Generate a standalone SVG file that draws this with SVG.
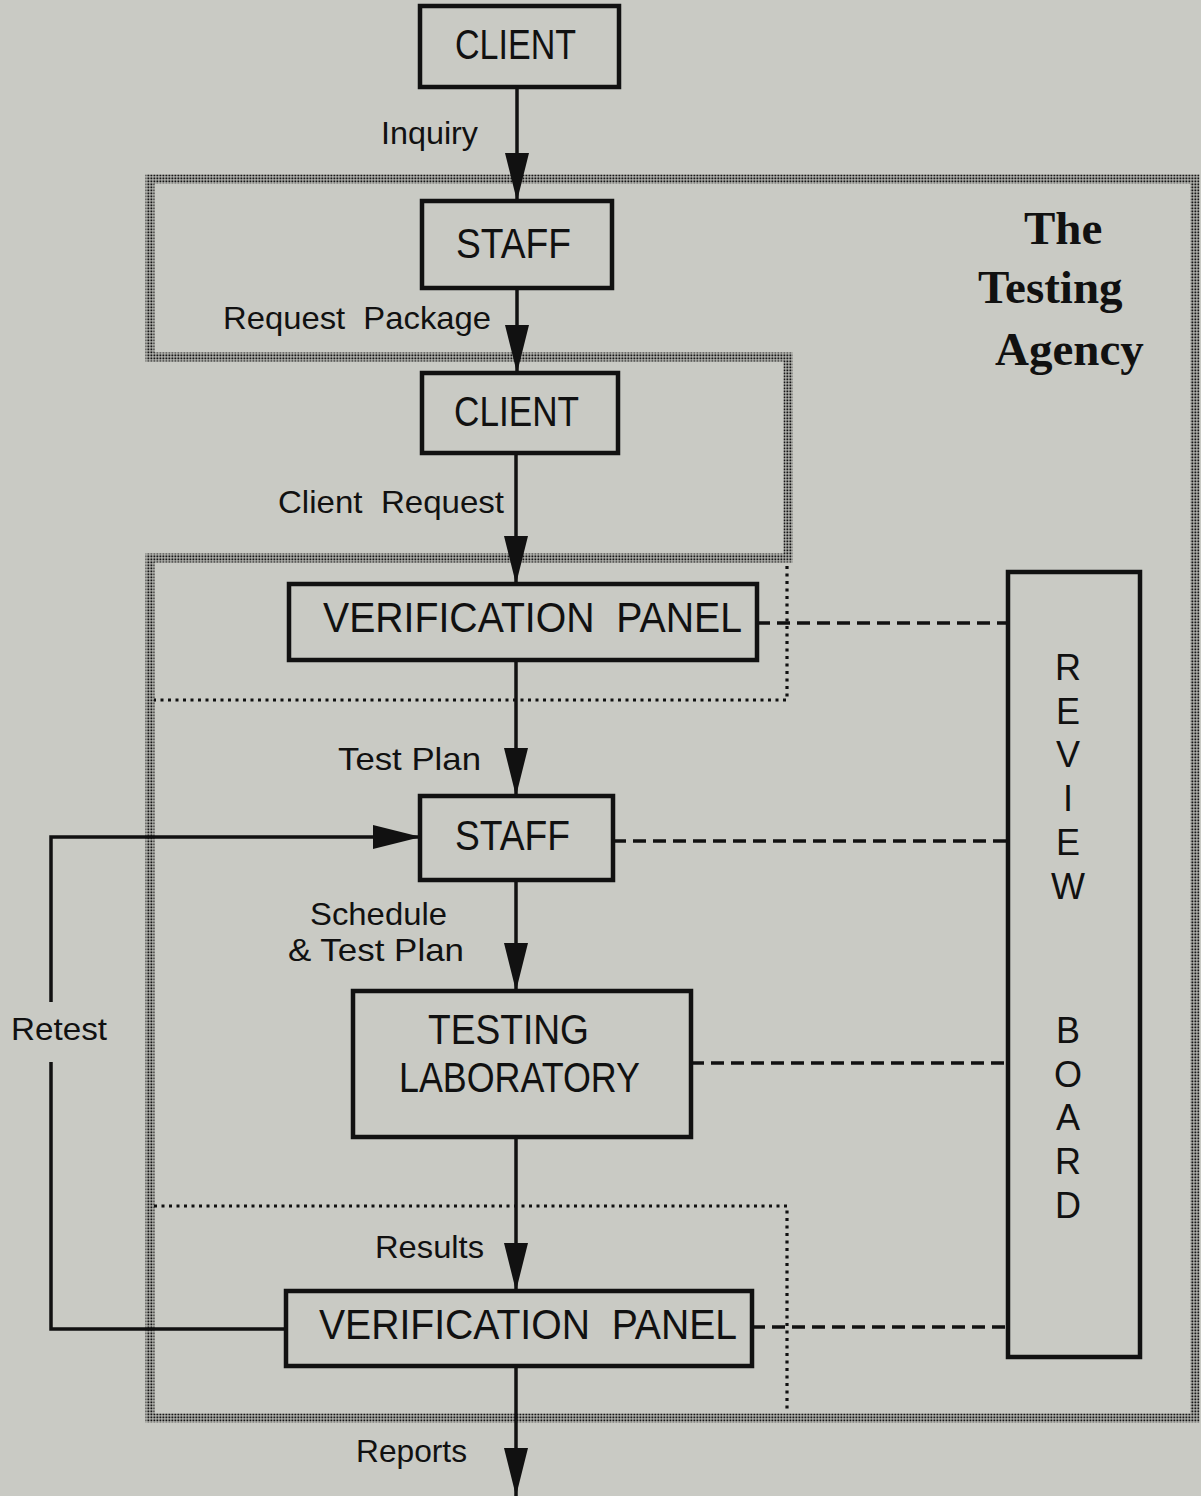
<svg xmlns="http://www.w3.org/2000/svg" width="1201" height="1496" viewBox="0 0 1201 1496">
  <defs>
    <style>
      .box { fill: none; stroke: #111; stroke-width: 4.5; }
      .conn { fill: none; stroke: #111; stroke-width: 3.5; }
      .link { fill: none; stroke: #111; stroke-width: 3.5; stroke-dasharray: 13 7; }
      .band { fill: none; stroke: url(#dots); stroke-width: 9; }
      .fine { fill: none; stroke: #111; stroke-width: 3.2; stroke-dasharray: 3 4.5; }
      .t { font-family: "Liberation Sans", Arial, sans-serif; fill: #111; }
      .node { font-size: 42px; }
      .lbl { font-size: 32px; }
      .rb { font-size: 36px; text-anchor: middle; }
      .title { font-family: "Liberation Serif", "Times New Roman", serif; font-weight: bold; font-size: 47px; fill: #111; }
    </style>
    <!-- stippled fill used for the agency boundary band -->
    <pattern id="dots" width="3" height="3" patternUnits="userSpaceOnUse">
      <rect x="0.4" y="0.4" width="2" height="2" fill="#151515"/>
    </pattern>
    <marker id="arrow" markerUnits="userSpaceOnUse" markerWidth="48" markerHeight="24" refX="48" refY="12" orient="auto">
      <path d="M0,0 L48,12 L0,24 Z" fill="#111"/>
    </marker>
  </defs>

  <rect width="1201" height="1496" fill="#c9cac4"/>

  <!-- agency boundary and verification panel regions -->
  <g id="boundaries">
    <path class="band" d="M150,179 H1195 V1418 H150 V558 H788 V357 H150 Z"/>
    <path class="fine" d="M787,566 V700 H154"/>
    <path class="fine" d="M154,1206 H787 V1413"/>
  </g>

  <!-- connectors -->
  <g id="connectors">
    <line class="conn" x1="517" y1="87" x2="517" y2="201" marker-end="url(#arrow)"/>
    <line class="conn" x1="517" y1="288" x2="517" y2="373" marker-end="url(#arrow)"/>
    <line class="conn" x1="516" y1="453" x2="516" y2="584" marker-end="url(#arrow)"/>
    <line class="conn" x1="516" y1="660" x2="516" y2="796" marker-end="url(#arrow)"/>
    <line class="conn" x1="516" y1="880" x2="516" y2="991" marker-end="url(#arrow)"/>
    <line class="conn" x1="516" y1="1137" x2="516" y2="1291" marker-end="url(#arrow)"/>
    <line class="conn" x1="516" y1="1366" x2="516" y2="1496" marker-end="url(#arrow)"/>
    <!-- retest loop, broken around its label -->
    <polyline class="conn" points="286,1329 51,1329 51,1062"/>
    <polyline class="conn" points="51,1002 51,837 421,837" marker-end="url(#arrow)"/>
    <line class="link" x1="757" y1="623" x2="1008" y2="623"/>
    <line class="link" x1="613" y1="841" x2="1008" y2="841"/>
    <line class="link" x1="691" y1="1063" x2="1008" y2="1063"/>
    <line class="link" x1="752" y1="1327" x2="1008" y2="1327"/>
  </g>

  <!-- connector labels -->
  <g id="labels">
    <text class="t lbl" x="381" y="144" textLength="97" lengthAdjust="spacingAndGlyphs">Inquiry</text>
    <text class="t lbl" x="223" y="329" textLength="268" lengthAdjust="spacingAndGlyphs" xml:space="preserve">Request  Package</text>
    <text class="t lbl" x="278" y="513" textLength="226" lengthAdjust="spacingAndGlyphs" xml:space="preserve">Client  Request</text>
    <text class="t lbl" x="338" y="770" textLength="143" lengthAdjust="spacingAndGlyphs">Test Plan</text>
    <text class="t lbl" x="310" y="925" textLength="137" lengthAdjust="spacingAndGlyphs">Schedule</text>
    <text class="t lbl" x="288" y="961" textLength="176" lengthAdjust="spacingAndGlyphs">&amp; Test Plan</text>
    <text class="t lbl" x="11" y="1040" textLength="96" lengthAdjust="spacingAndGlyphs">Retest</text>
    <text class="t lbl" x="375" y="1258" textLength="109" lengthAdjust="spacingAndGlyphs">Results</text>
    <text class="t lbl" x="356" y="1462" textLength="111" lengthAdjust="spacingAndGlyphs">Reports</text>
  </g>

  <g id="client-1">
    <rect class="box" x="420" y="6" width="199" height="81"/>
    <text class="t node" x="455" y="59" textLength="121" lengthAdjust="spacingAndGlyphs">CLIENT</text>
  </g>
  <g id="staff-1">
    <rect class="box" x="422" y="201" width="190" height="87"/>
    <text class="t node" x="456" y="258" textLength="115" lengthAdjust="spacingAndGlyphs">STAFF</text>
  </g>
  <g id="client-2">
    <rect class="box" x="422" y="373" width="196" height="80"/>
    <text class="t node" x="454" y="426" textLength="125" lengthAdjust="spacingAndGlyphs">CLIENT</text>
  </g>
  <g id="verification-panel-1">
    <rect class="box" x="289" y="584" width="468" height="76"/>
    <text class="t node" x="323" y="632" textLength="419" lengthAdjust="spacingAndGlyphs" xml:space="preserve">VERIFICATION  PANEL</text>
  </g>
  <g id="staff-2">
    <rect class="box" x="420" y="796" width="193" height="84"/>
    <text class="t node" x="455" y="850" textLength="115" lengthAdjust="spacingAndGlyphs">STAFF</text>
  </g>
  <g id="testing-laboratory">
    <rect class="box" x="353" y="991" width="338" height="146"/>
    <text class="t node" x="428" y="1044" textLength="161" lengthAdjust="spacingAndGlyphs">TESTING</text>
    <text class="t node" x="399" y="1092" textLength="241" lengthAdjust="spacingAndGlyphs">LABORATORY</text>
  </g>
  <g id="verification-panel-2">
    <rect class="box" x="286" y="1291" width="466" height="75"/>
    <text class="t node" x="319" y="1339" textLength="418" lengthAdjust="spacingAndGlyphs" xml:space="preserve">VERIFICATION  PANEL</text>
  </g>
  <g id="review-board">
    <rect class="box" x="1008" y="572" width="132" height="785"/>
    <text class="t rb" x="1068" y="680">R</text>
    <text class="t rb" x="1068" y="724">E</text>
    <text class="t rb" x="1068" y="767">V</text>
    <text class="t rb" x="1068" y="811">I</text>
    <text class="t rb" x="1068" y="855">E</text>
    <text class="t rb" x="1068" y="899">W</text>
    <text class="t rb" x="1068" y="1043">B</text>
    <text class="t rb" x="1068" y="1087">O</text>
    <text class="t rb" x="1068" y="1130">A</text>
    <text class="t rb" x="1068" y="1174">R</text>
    <text class="t rb" x="1068" y="1218">D</text>
  </g>

  <g id="agency-title">
    <text class="title" x="1024" y="244">The</text>
    <text class="title" x="978" y="303">Testing</text>
    <text class="title" x="995" y="365">Agency</text>
  </g>
</svg>
